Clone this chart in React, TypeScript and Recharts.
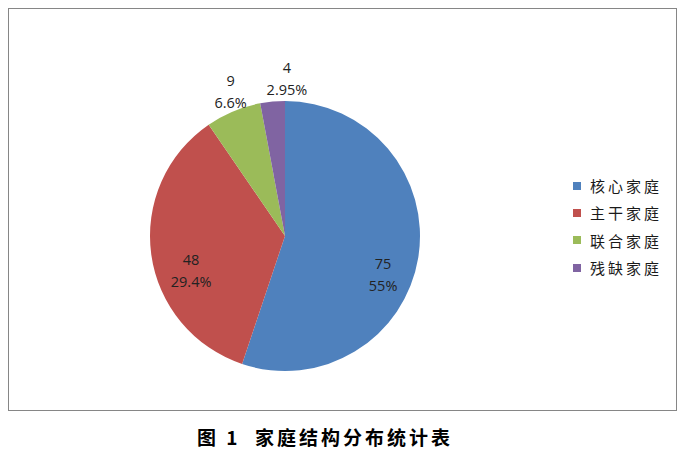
import { PieChart, Pie, Cell, Legend } from 'recharts'

const categories = ['核心家庭', '主干家庭', '联合家庭', '残缺家庭']
const counts = [75, 48, 9, 4]
const percentLabels = ['55%', '29.4%', '6.6%', '2.95%']
const colors = ['#4F81BD', '#C0504D', '#9BBB59', '#8064A2']

const data = categories.map((name, i) => ({ name, value: counts[i], pct: percentLabels[i] }))

// label placement tweaks to mimic Excel's best-fit positions
const placement = [
  { dAngle: -12, r: 0.78 },
  { dAngle: 12, r: 0.74 },
  { dAngle: -2, r: 1.15 },
  { dAngle: -6, r: 1.17 },
]

const RADIAN = Math.PI / 180

const renderLabel = (props: any) => {
  const { cx, cy, midAngle, outerRadius, index } = props
  const p = placement[index]
  const a = (midAngle + p.dAngle) * RADIAN
  const x = cx + outerRadius * p.r * Math.cos(a)
  const y = cy - outerRadius * p.r * Math.sin(a)
  const d = data[index]
  return (
    <text x={x} y={y} textAnchor="middle" fill="#222" fontSize={14.5} fontFamily="'Open Sans', sans-serif">
      <tspan x={x} dy={-5}>{d.value}</tspan>
      <tspan x={x} dy={22}>{d.pct}</tspan>
    </text>
  )
}

const renderLegend = () => (
  <div style={{ fontFamily: "'Noto Sans CJK SC', sans-serif", fontSize: 15, color: '#1a1a1a' }}>
    {data.map((d, i) => (
      <div key={d.name} style={{ display: 'flex', alignItems: 'center', height: 27.3 }}>
        <span style={{ width: 8, height: 8, background: colors[i], marginRight: 9, display: 'inline-block' }} />
        <span style={{ letterSpacing: 3 }}>{d.name}</span>
      </div>
    ))}
  </div>
)

export default function App() {
  return (
    <div style={{ position: 'absolute', left: 0, top: 0, width: 684, height: 457, background: '#fff' }}>
      <div
        style={{
          position: 'absolute',
          left: 8,
          top: 8,
          width: 667,
          height: 401,
          border: '1px solid #868686',
        }}
      />
      <div style={{ position: 'absolute', left: 0, top: 0 }}>
        <PieChart width={684} height={420} margin={{ top: 0, right: 0, bottom: 0, left: 0 }}>
          <Pie
            data={data}
            dataKey="value"
            nameKey="name"
            cx={285}
            cy={236}
            outerRadius={135}
            startAngle={90}
            endAngle={-270}
            stroke="none"
            label={renderLabel}
            labelLine={false}
            isAnimationActive={false}
          >
            {data.map((d, i) => (
              <Cell key={d.name} fill={colors[i]} />
            ))}
          </Pie>
          <Legend
            content={renderLegend}
            layout="vertical"
            align="right"
            verticalAlign="top"
            wrapperStyle={{ left: 573, top: 172, width: 110 }}
          />
        </PieChart>
      </div>
      <div
        style={{
          position: 'absolute',
          left: 0,
          width: 650,
          top: 423,
          textAlign: 'center',
          fontFamily: "'Noto Sans CJK SC', sans-serif",
          fontWeight: 700,
          fontSize: 19,
          letterSpacing: 3,
          color: '#000',
          whiteSpace: 'pre',
        }}
      >
        {'图 1  家庭结构分布统计表'}
      </div>
    </div>
  )
}
